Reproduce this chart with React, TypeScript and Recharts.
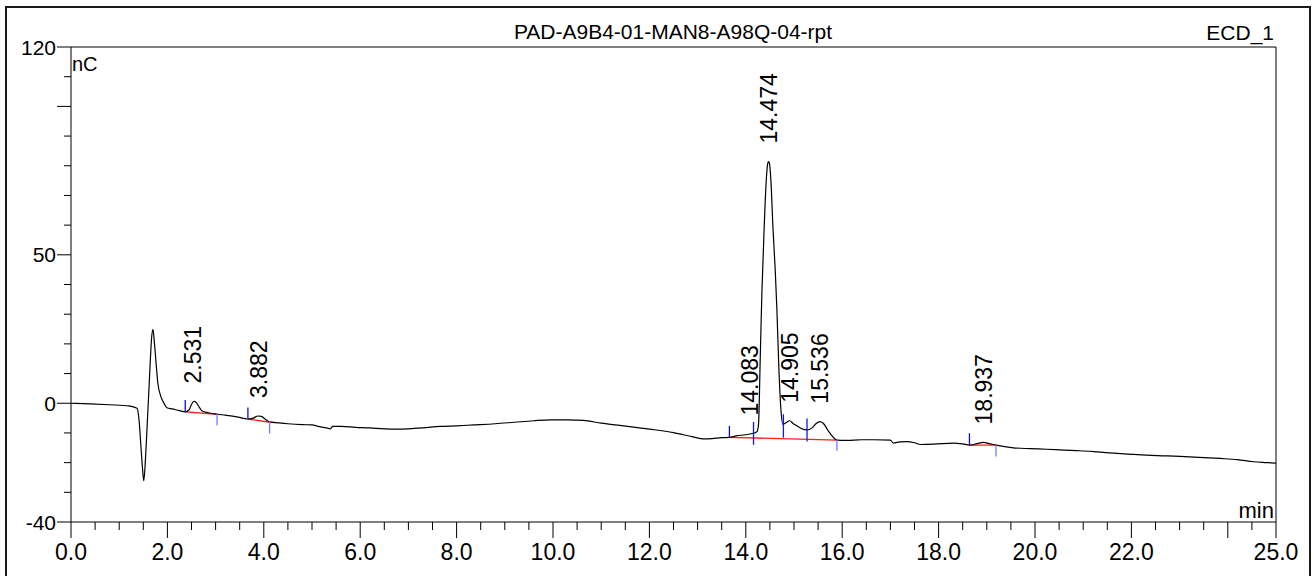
import React from 'react';
import { ComposedChart, Line, Scatter, XAxis, YAxis, ReferenceLine } from 'recharts';

const FONT = '"Liberation Sans", Arial, Helvetica, sans-serif';

// trace: retention time (min) and signal (nC)
const traceTime = [
  0.0, 0.4, 0.8, 1.2, 1.37, 1.41, 1.455, 1.49, 1.51, 1.545, 1.58, 1.614, 1.65, 1.67, 1.7, 1.73, 1.77, 1.8,
  1.86, 1.92, 1.99, 2.1, 2.25, 2.37, 2.45, 2.5, 2.55, 2.6, 2.66, 2.72, 2.85, 3.03, 3.2, 3.38, 3.55, 3.67,
  3.78, 3.88, 3.95, 4.03, 4.12, 4.3, 4.5, 4.8, 5.0, 5.15, 5.3, 5.38, 5.43, 5.6, 5.9, 6.2, 6.5, 6.7, 7.0,
  7.3, 7.66, 8.0, 8.35, 8.8, 9.2, 9.6, 9.94, 10.3, 10.63, 11.0, 11.46, 12.0, 12.5, 12.9, 13.12, 13.3, 13.5,
  13.66, 13.8, 14.0, 14.13, 14.23, 14.264, 14.299, 14.334, 14.382, 14.424, 14.45, 14.471, 14.49, 14.521,
  14.562, 14.61, 14.645, 14.687, 14.728, 14.77, 14.84, 14.91, 14.98, 15.06, 15.15, 15.27, 15.38, 15.46,
  15.54, 15.62, 15.7, 15.79, 15.89, 16.1, 16.4, 16.65, 17.0, 17.06, 17.2, 17.34, 17.5, 17.62, 17.9, 18.31,
  18.5, 18.64, 18.8, 18.93, 19.05, 19.19, 19.55, 19.9, 20.24, 20.6, 20.93, 21.3, 21.63, 22.0, 22.32, 22.7,
  23.01, 23.4, 23.84, 24.2, 24.53, 24.8, 25.0,
];
const traceSignal = [
  0.0, -0.2, -0.5, -0.9, -1.7, -5.4, -15.5, -23.2, -26.1, -18.8, -7.6, 3.7, 15.9, 21.5, 24.9, 20.5, 12.5, 7.0,
  2.5, 0.3, -1.5, -1.9, -2.5, -2.9, -2.2, -0.4, 0.6, 0.2, -1.3, -2.6, -3.2, -3.7, -4.0, -4.4, -5.0, -5.3,
  -5.0, -4.3, -4.4, -5.4, -6.3, -6.6, -6.9, -7.2, -7.3, -7.9, -8.3, -8.6, -7.8, -7.8, -8.1, -8.3, -8.6, -8.7, -8.6,
  -8.3, -7.8, -7.6, -7.3, -6.9, -6.4, -5.9, -5.6, -5.6, -5.8, -6.7, -7.6, -8.7, -9.9, -11.3, -12.0, -11.9, -11.6,
  -11.5, -11.0, -10.6, -10.2, -9.6, -7.1, 14.8, 37.3, 59.6, 75.0, 80.3, 81.4, 80.8, 75.0,
  59.6, 45.0, 31.6, 11.4, -2.0, -7.1, -6.5, -5.9, -6.8, -7.6, -8.5, -9.0, -8.2, -6.8,
  -6.2, -7.0, -9.0, -11.0, -12.4, -12.5, -12.3, -12.3, -12.4, -13.4, -13.0, -12.9, -13.3, -13.9, -13.8, -13.4,
  -13.7, -14.1, -13.6, -13.2, -13.6, -14.1, -15.0, -15.3, -15.5, -15.8, -16.0, -16.4, -16.8, -17.2, -17.5, -17.7,
  -17.9, -18.2, -18.6, -19.0, -19.7, -20.0, -20.2,
];

// detected peaks
const peakTimes = [2.531, 3.882, 14.083, 14.474, 14.905, 15.536, 18.937];
const peakApex = [0.6, -4.3, -10.2, 81.4, -5.9, -6.2, -13.2];
const peakLabels = ['2.531', '3.882', '14.083', '14.474', '14.905', '15.536', '18.937'];

// integration baselines (red)
const baseFromT = [2.37, 3.67, 13.66, 18.64];
const baseFromV = [-2.9, -5.3, -11.5, -14.1];
const baseToT = [3.03, 4.12, 15.89, 19.19];
const baseToV = [-3.7, -6.4, -12.4, -14.1];

// peak start / split / end markers (blue)
const eventTime = [2.37, 3.03, 3.67, 4.12, 13.66, 14.16, 14.78, 15.27, 15.89, 18.64, 19.19];
const eventTop = [1.1, -3.3, -1.4, -5.9, -7.6, -6.3, -3.7, -5.1, -12.4, -10.1, -14.1];
const eventBottom = [-2.9, -7.4, -5.2, -10.2, -11.5, -14.0, -11.6, -12.9, -16.0, -14.1, -17.9];
const eventKind = ['start', 'end', 'start', 'end', 'start', 'split', 'split', 'split', 'end', 'start', 'end'];

const xLabelled = [0, 2, 4, 6, 8, 10, 12, 14, 16, 18, 20, 22, 25];
const xMajor = [...xLabelled, 24];
const xTicks = Array.from({ length: 51 }, (_, i) => i * 0.5);
const yLabelled = [-40, 0, 50, 120];
const yMajor = [-40, 0, 50, 100, 120];
const yTicks = Array.from({ length: 17 }, (_, i) => -40 + i * 10);

const traceData = traceTime.map((t, i) => ({ t, v: traceSignal[i] }));
const peakData = peakTimes.map((t, i) => ({ t, v: peakApex[i], label: peakLabels[i] }));

const eventColor: Record<string, string> = { start: '#0a0ae6', split: '#1414f0', end: '#7878ff' };

function XTick({ x, y, payload }: any) {
  const v = payload.value;
  const major = xMajor.includes(v);
  return (
    <g>
      <line x1={x} x2={x} y1={y} y2={y + (major ? 16 : 8)} stroke="#000" />
      {xLabelled.includes(v) && (
        <text x={x} y={y + 38} textAnchor="middle" fontSize={23} fontFamily={FONT} fill="#000">
          {v.toFixed(1)}
        </text>
      )}
    </g>
  );
}

function YTick({ x, y, payload }: any) {
  const v = payload.value;
  const major = yMajor.includes(v);
  return (
    <g>
      <line x1={x} x2={x - (major ? 14 : 7)} y1={y} y2={y} stroke="#000" />
      {yLabelled.includes(v) && (
        <text x={x - 15} y={y} dy="0.36em" textAnchor="end" fontSize={21} fontFamily={FONT} fill="#000">
          {v}
        </text>
      )}
    </g>
  );
}

function PeakLabel(props: any) {
  const { cx, cy, payload } = props;
  return (
    <text
      transform={`translate(${cx + 8.5},${cy - 18}) rotate(-90)`}
      fontSize={23}
      fontFamily={FONT}
      fill="#000"
    >
      {payload.label}
    </text>
  );
}

export default function App() {
  return (
    <div style={{ position: 'absolute', left: 0, top: 0, width: 1314, height: 576, background: '#fff' }}>
      <ComposedChart width={1314} height={576} margin={{ top: 47, right: 38, bottom: 0, left: 0 }}>
        <XAxis
          dataKey="t"
          type="number"
          domain={[0, 25]}
          ticks={xTicks}
          interval={0}
          tickSize={0}
          tickMargin={0}
          tickLine={false}
          height={54}
          axisLine={{ stroke: '#000' }}
          tick={<XTick />}
          allowDataOverflow
        />
        <YAxis
          type="number"
          domain={[-40, 120]}
          ticks={yTicks}
          interval={0}
          tickSize={0}
          tickMargin={0}
          tickLine={false}
          width={71}
          axisLine={{ stroke: '#000' }}
          tick={<YTick />}
          allowDataOverflow
        />
        <ReferenceLine y={120} stroke="#000" />
        <ReferenceLine x={25} stroke="#000" />
        {baseFromT.map((t, i) => (
          <ReferenceLine
            key={`b${i}`}
            segment={[
              { x: t, y: baseFromV[i] },
              { x: baseToT[i], y: baseToV[i] },
            ]}
            stroke="#ff1e1e"
            strokeWidth={1.3}
          />
        ))}
        <Line
          data={traceData}
          dataKey="v"
          type="monotone"
          stroke="#000"
          strokeWidth={1.2}
          dot={false}
          isAnimationActive={false}
        />
        {eventTime.map((t, i) => (
          <ReferenceLine
            key={`e${i}`}
            segment={[
              { x: t, y: eventTop[i] },
              { x: t, y: eventBottom[i] },
            ]}
            stroke={eventColor[eventKind[i]]}
            strokeWidth={1.3}
          />
        ))}
        <Scatter data={peakData} dataKey="v" shape={<PeakLabel />} isAnimationActive={false} />
      </ComposedChart>
      <svg
        width={1314}
        height={576}
        style={{ position: 'absolute', left: 0, top: 0, pointerEvents: 'none' }}
      >
        <rect x={6} y={7} width={1304} height={600} fill="none" stroke="#1a1a1a" strokeWidth={2} />
        <text x={673} y={39} textAnchor="middle" fontSize={21} fontFamily={FONT} fill="#000">
          PAD-A9B4-01-MAN8-A98Q-04-rpt
        </text>
        <text x={1274} y={40} textAnchor="end" fontSize={21} fontFamily={FONT} fill="#000">
          ECD_1
        </text>
        <text x={72} y={71} fontSize={20} fontFamily={FONT} fill="#000">
          nC
        </text>
        <text x={1274} y={518} textAnchor="end" fontSize={22} fontFamily={FONT} fill="#000">
          min
        </text>
      </svg>
    </div>
  );
}
